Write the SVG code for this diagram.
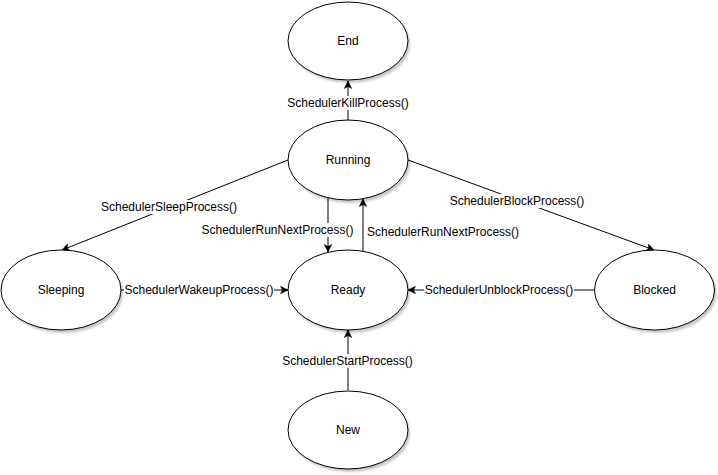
<svg xmlns="http://www.w3.org/2000/svg" width="718" height="475" viewBox="0 0 718 475">
<style>
.node ellipse.shape{fill:#ffffff;stroke:#000000;stroke-width:1}
.node ellipse.shadow{fill:#000000;opacity:0.22;filter:url(#blur)}
text{font-family:"Liberation Sans",Arial,Helvetica,sans-serif;font-size:12px;fill:#000000}
.c{text-anchor:middle}
.edge{stroke:#000000;stroke-width:1;fill:none;marker-end:url(#arrow)}
.lbl{fill:#ffffff;stroke:none}
</style>
<defs>
<filter id="blur" x="-20%" y="-20%" width="140%" height="140%"><feGaussianBlur stdDeviation="1"/></filter>
<marker id="arrow" viewBox="-8 -4 9 8" refX="0" refY="0" markerWidth="9" markerHeight="8" markerUnits="userSpaceOnUse" orient="auto">
<path d="M0,0 L-7.5,-3.75 L-5.6,0 L-7.5,3.75 Z" fill="#000000" stroke="#000000" stroke-width="0.5"/>
</marker>
</defs>
<rect x="0" y="0" width="718" height="475" fill="#ffffff"/>
<g id="connectors">
<line class="edge" x1="348" y1="120" x2="348" y2="81"/>
<line class="edge" x1="288" y1="160" x2="62" y2="250"/>
<line class="edge" x1="408" y1="160" x2="654" y2="250"/>
<line class="edge" x1="328" y1="198" x2="328" y2="252"/>
<line class="edge" x1="363" y1="251" x2="363" y2="199"/>
<line class="edge" x1="121" y1="290" x2="288" y2="290"/>
<line class="edge" x1="594" y1="290" x2="408" y2="290"/>
<line class="edge" x1="348" y1="390" x2="348" y2="330"/>
<rect class="lbl" x="288" y="96" width="121" height="14"/>
<text class="c" x="348" y="107">SchedulerKillProcess()</text>
<rect class="lbl" x="100" y="200" width="138" height="14"/>
<text class="c" x="169" y="211">SchedulerSleepProcess()</text>
<rect class="lbl" x="449" y="194" width="136" height="14"/>
<text class="c" x="517" y="205">SchedulerBlockProcess()</text>
<rect class="lbl" x="201" y="223" width="153" height="14"/>
<text class="c" x="277.5" y="234">SchedulerRunNextProcess()</text>
<text x="367" y="236">SchedulerRunNextProcess()</text>
<rect class="lbl" x="124" y="283" width="150" height="14"/>
<text class="c" x="199" y="294">SchedulerWakeupProcess()</text>
<rect class="lbl" x="424" y="283" width="150" height="14"/>
<text class="c" x="499" y="294">SchedulerUnblockProcess()</text>
<rect class="lbl" x="282" y="354" width="131" height="14"/>
<text class="c" x="347.5" y="365">SchedulerStartProcess()</text>
</g>
<g id="node-end" class="node">
<ellipse class="shadow" cx="350" cy="44" rx="60" ry="39"/>
<ellipse class="shape" cx="348" cy="41" rx="60" ry="39"/>
<text class="c" x="348" y="45">End</text>
</g>
<g id="node-running" class="node">
<ellipse class="shadow" cx="350" cy="163" rx="60" ry="40"/>
<ellipse class="shape" cx="348" cy="160" rx="60" ry="40"/>
<text class="c" x="348" y="164">Running</text>
</g>
<g id="node-sleeping" class="node">
<ellipse class="shadow" cx="63" cy="293" rx="60" ry="40"/>
<ellipse class="shape" cx="61" cy="290" rx="60" ry="40"/>
<text class="c" x="61" y="294">Sleeping</text>
</g>
<g id="node-ready" class="node">
<ellipse class="shadow" cx="350" cy="293" rx="60" ry="40"/>
<ellipse class="shape" cx="348" cy="290" rx="60" ry="40"/>
<text class="c" x="348" y="294">Ready</text>
</g>
<g id="node-blocked" class="node">
<ellipse class="shadow" cx="656.5" cy="293" rx="60" ry="40"/>
<ellipse class="shape" cx="654.5" cy="290" rx="60" ry="40"/>
<text class="c" x="654.5" y="294">Blocked</text>
</g>
<g id="node-new" class="node">
<ellipse class="shadow" cx="350" cy="433" rx="60" ry="39"/>
<ellipse class="shape" cx="348" cy="430" rx="60" ry="39"/>
<text class="c" x="348" y="434">New</text>
</g>
</svg>
